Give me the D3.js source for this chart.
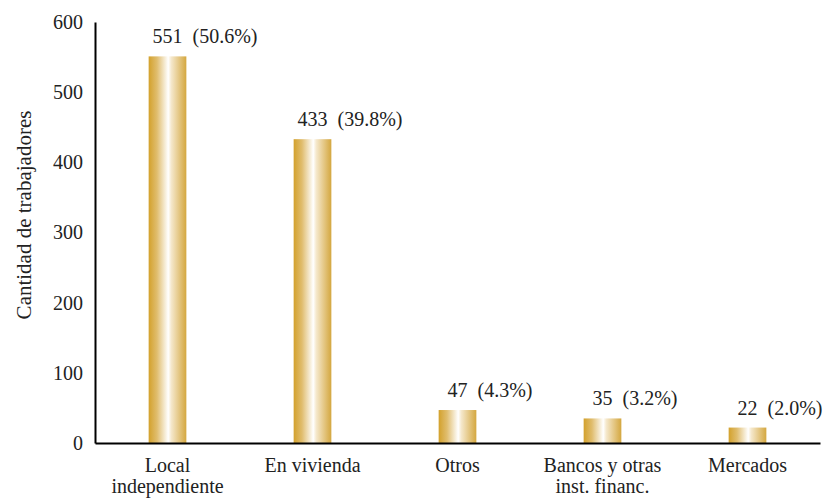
<!DOCTYPE html>
<html>
<head>
<meta charset="utf-8">
<script src="https://cdn.jsdelivr.net/npm/d3@7"></script>
<style>
  body { margin: 0; background: #fff; }
</style>
</head>
<body>
<div id="chart"></div>
<script>
// Data
const categories = [["Local", "independiente"], ["En vivienda"], ["Otros"], ["Bancos y otras", "inst. financ."], ["Mercados"]];
const counts = [551, 433, 47, 35, 22];
const shares = ["(50.6%)", "(39.8%)", "(4.3%)", "(3.2%)", "(2.0%)"];
const yTicks = [0, 100, 200, 300, 400, 500, 600];

const FONT = "Liberation Serif";
const width = 828, height = 499;
const margin = { top: 22, right: 8, bottom: 56, left: 95 };
const innerWidth = width - margin.left - margin.right;
const innerHeight = height - margin.top - margin.bottom;

const svg = d3.select("#chart").append("svg")
    .attr("width", width)
    .attr("height", height)
    .attr("font-family", FONT);

// Gold gradient with a white highlight stripe
const grad = svg.append("defs").append("linearGradient")
    .attr("id", "gold")
    .attr("x1", "0%").attr("x2", "100%")
    .attr("y1", "0%").attr("y2", "0%");
grad.append("stop").attr("offset", "0%").attr("stop-color", "#d3a12c");
grad.append("stop").attr("offset", "22%").attr("stop-color", "#e0bd6e");
grad.append("stop").attr("offset", "52%").attr("stop-color", "#ffffff");
grad.append("stop").attr("offset", "60%").attr("stop-color", "#f5e8cc");
grad.append("stop").attr("offset", "100%").attr("stop-color", "#d4a73f");

const chart = svg.append("g")
    .attr("transform", `translate(${margin.left},${margin.top})`);

const idx = categories.map((d, i) => i);

const x = d3.scaleBand()
    .domain(idx)
    .range([0, innerWidth])
    .paddingInner(0.74)
    .paddingOuter(0.37);

const y = d3.scaleLinear()
    .domain([0, 600])
    .range([innerHeight, 0]);

// Y axis: line plus labels, no tick marks
const yAxis = chart.append("g")
    .call(d3.axisLeft(y).tickValues(yTicks).tickSize(0).tickPadding(12));
yAxis.attr("font-family", FONT).attr("font-size", 20);
yAxis.select(".domain").attr("stroke", "#000").attr("stroke-width", 2);
yAxis.selectAll("text").attr("fill", "#222");

// Bars
chart.selectAll(".bar")
    .data(idx)
    .join("rect")
    .attr("class", "bar")
    .attr("x", i => x(i))
    .attr("y", i => y(counts[i]))
    .attr("width", x.bandwidth())
    .attr("height", i => y(0) - y(counts[i]))
    .attr("fill", "url(#gold)");

// X axis baseline
const xAxis = chart.append("g")
    .attr("transform", `translate(0,${innerHeight})`)
    .call(d3.axisBottom(x).tickSize(0).tickFormat(""));
xAxis.select(".domain").attr("stroke", "#000").attr("stroke-width", 2);

// Category labels, one text per line
chart.selectAll(".cat")
    .data(idx.flatMap(i => categories[i].map((t, k) => ({ i, k, t }))))
    .join("text")
    .attr("class", "cat")
    .attr("text-anchor", "middle")
    .attr("font-size", 20)
    .attr("fill", "#222")
    .attr("x", d => x(d.i) + x.bandwidth() / 2)
    .attr("y", d => innerHeight + 29 + d.k * 21)
    .text(d => d.t);

// Value labels: count centred on bar, share to its right
const valueGroups = chart.selectAll(".val")
    .data(idx)
    .join("g")
    .attr("class", "val");

valueGroups.append("text")
    .attr("class", "num")
    .attr("text-anchor", "middle")
    .attr("font-size", 20)
    .attr("fill", "#222")
    .attr("x", i => x(i) + x.bandwidth() / 2)
    .attr("y", i => y(counts[i]) - 13)
    .text(i => counts[i]);

valueGroups.append("text")
    .attr("font-size", 20)
    .attr("fill", "#222")
    .attr("x", function(i) {
        const w = this.parentNode.querySelector(".num").getComputedTextLength();
        return x(i) + x.bandwidth() / 2 + w / 2 + 10;
    })
    .attr("y", i => y(counts[i]) - 13)
    .text(i => shares[i]);

// Y axis title
svg.append("text")
    .attr("transform", "translate(31,215) rotate(-90)")
    .attr("text-anchor", "middle")
    .attr("font-size", 21)
    .attr("fill", "#222")
    .text("Cantidad de trabajadores");
</script>
</body>
</html>
